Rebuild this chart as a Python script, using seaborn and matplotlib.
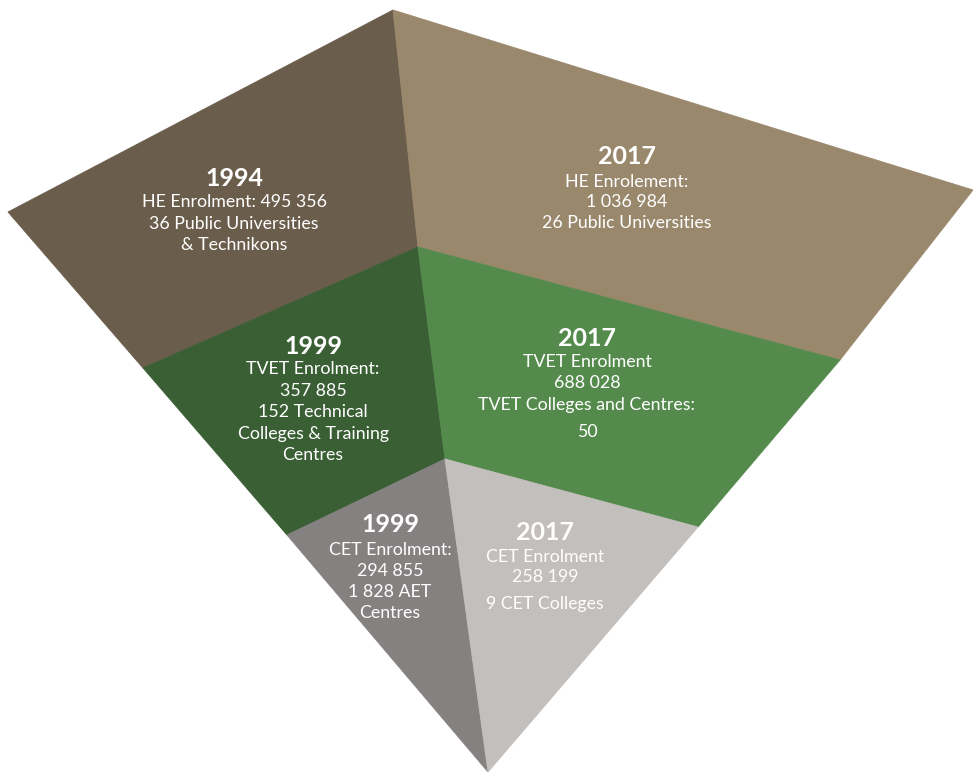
import matplotlib.pyplot as plt
import seaborn as sns

sns.set_theme(style='white')
plt.rcParams['font.family'] = ['Lato', 'DejaVu Sans']

# Data: the six segments of the inverted pyramid
segments = ['HE 1994', 'HE 2017', 'TVET 1999', 'TVET 2017', 'CET 1999', 'CET 2017']
years = ['1994', '2017', '1999', '2017', '1999', '2017']
details = [
    ['HE Enrolment: 495 356', '36 Public Universities', '& Technikons'],
    ['HE Enrolement:', '1 036 984', '26 Public Universities'],
    ['TVET Enrolment:', '357 885', '152 Technical', 'Colleges & Training', 'Centres'],
    ['TVET Enrolment', '688 028', 'TVET Colleges and Centres:', '50'],
    ['CET Enrolment:', '294 855', '1 828 AET', 'Centres'],
    ['CET Enrolment', '258 199', '9 CET Colleges'],
]

# Layout (pixel space, y downwards)
colours = ['#6b5d4c', '#9a886d', '#3a5f35', '#548b4c', '#858180', '#c2bfbd']
shapes = [
    [(8, 212), (393, 10), (418, 247), (143, 368)],
    [(393, 10), (973, 190), (840, 360), (418, 247)],
    [(143, 368), (418, 247), (445, 459), (287, 535)],
    [(418, 247), (840, 360), (698, 527), (445, 459)],
    [(287, 535), (445, 459), (488, 772)],
    [(445, 459), (698, 527), (488, 772)],
]
label_x = [234, 627, 313, 587, 390, 545]
year_y = [179, 156, 346, 338, 525, 532]
line_y = [
    [202, 224, 245],
    [182, 202, 223],
    [369, 391, 412, 434, 455],
    [362, 383, 405, 432],
    [550, 571, 592, 613],
    [557, 577, 604],
]

fig = plt.figure(figsize=(9.73, 7.72), dpi=100)
ax = fig.add_axes([0, 0, 1, 1])

for pts, col in zip(shapes, colours):
    xs, ys = zip(*pts)
    ax.fill(xs, ys, color=col, lw=0.6, ec=col, zorder=1)

for i, seg in enumerate(segments):
    ax.text(label_x[i], year_y[i], years[i], ha='center', va='center',
            fontsize=18, fontweight='bold', color='white', zorder=3)
    for txt, y in zip(details[i], line_y[i]):
        ax.text(label_x[i], y, txt, ha='center', va='center',
                fontsize=12.8, color='white', zorder=3)

ax.set_xlim(0, 973)
ax.set_ylim(772, 0)
ax.axis('off')

plt.savefig('out.png', dpi=100)
